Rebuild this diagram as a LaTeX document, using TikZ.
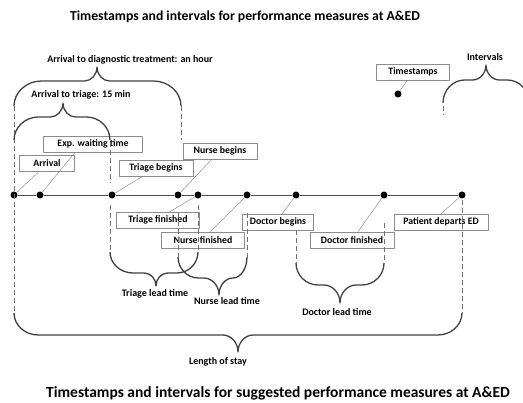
\documentclass[tikz,border=0pt]{standalone}
\usepackage{fontspec}
\setmainfont{Carlito}
\usetikzlibrary{calc}
\tikzset{
  stamp/.style={draw=black!45,line width=0.6pt,inner sep=1pt,minimum height=16pt,font=\bfseries\fontsize{9.8}{11}\selectfont},
  dot/.style={circle,fill=black,inner sep=0pt,minimum size=7pt},
  lead/.style={draw=black!50,line width=0.4pt},
  tick/.style={draw=black!55,line width=0.8pt,dash pattern=on 5pt off 3pt},
  curly/.style={draw=black!75,line width=1.3pt},
  caption/.style={font=\bfseries\fontsize{10}{12}\selectfont},
  heading/.style={font=\bfseries\fontsize{13.7}{16}\selectfont}
}
% #1 left x, #2 tip x, #3 right x, #4 end y, #5 bar y, #6 tip y
\newcommand\spanbrace[6]{%
  \pgfmathsetmacro\ra{min(1.1*abs(#4-#5),(#2-#1)/2)}%
  \pgfmathsetmacro\sa{min(0.9*abs(#6-#5),(#2-#1)/2)}%
  \pgfmathsetmacro\rb{min(1.1*abs(#4-#5),(#3-#2)/2)}%
  \pgfmathsetmacro\sb{min(0.9*abs(#6-#5),(#3-#2)/2)}%
  \draw[curly] (#1,#4) .. controls (#1,{#4+0.55*(#5-#4)}) and ({#1+0.45*\ra},#5) .. ({#1+\ra},#5)
    -- ({#2-\sa},#5) .. controls ({#2-0.45*\sa},#5) and (#2,{#5+0.45*(#6-#5)}) .. (#2,#6)
    .. controls (#2,{#5+0.45*(#6-#5)}) and ({#2+0.45*\sb},#5) .. ({#2+\sb},#5)
    -- ({#3-\rb},#5) .. controls ({#3-0.45*\rb},#5) and (#3,{#4+0.55*(#5-#4)}) .. (#3,#4);}
\begin{document}
\begin{tikzpicture}[x=1pt,y=-1pt,line join=round]
\useasboundingbox (0,0) rectangle (523,403);
%%
  \node (title_0) at (245,17) [heading] {Timestamps and intervals for performance measures at A\&ED};
  \node (title_1) at (278,393) [heading,font=\bfseries\fontsize{15.5}{18}\selectfont] {Timestamps and intervals for suggested performance measures at A\&ED};

  % time line
  \foreach \i/\x in {0/14,1/40,2/112,3/178,4/198,5/247,6/296,7/384,8/462}
    \node (dot_\i) at (\x,195) [dot] {};
  \foreach \i [evaluate=\i as \j using int(\i+1)] in {0,...,7}
    \draw [black!70,line width=0.7pt] (dot_\i) -- (dot_\j);

  % timestamps
  \node (lbl_arrival) at (47,163) [stamp,minimum width=55pt] {Arrival};
  \node (lbl_waiting) at (93,144) [stamp,minimum width=99pt] {Exp. waiting time};
  \node (lbl_triagein) at (156,168) [stamp,minimum width=74pt] {Triage begins};
  \node (lbl_nursein) at (220,151) [stamp,minimum width=74pt] {Nurse begins};
  \node (lbl_triageout) at (158,220) [stamp,minimum width=83pt] {Triage finished};
  \node (lbl_nurseout) at (203,240) [stamp,minimum width=83pt] {Nurse finished};
  \node (lbl_doctorin) at (278,222) [stamp,minimum width=71pt] {Doctor begins};
  \node (lbl_doctorout) at (352,240) [stamp,minimum width=84pt] {Doctor finished};
  \node (lbl_departs) at (441,222) [stamp,minimum width=94pt] {Patient departs ED};

  \foreach \d/\l/\f/\a in {0/arrival/0.36/south,1/waiting/0.32/south,2/triagein/0.32/south,
      3/nursein/0.39/south,4/triageout/0.64/north,5/nurseout/0.59/north,
      6/doctorin/0.56/north,7/doctorout/0.57/north,8/departs/0.5/north}
    \draw [lead] (dot_\d) -- ($(lbl_\l.\a\space west)!\f!(lbl_\l.\a\space east)$);

  % legend
  \node (lbl_key) at (413,72) [stamp,minimum width=73pt] {Timestamps};
  \node (dot_key) at (398,94) [dot] {};
  \draw [lead] (dot_key) -- ($(lbl_key.south west)!0.42!(lbl_key.south east)$);
  \node (cap_key) at (485,57) [caption] {Intervals};
  \spanbrace{443}{486}{529}{103}{80}{65}
  \draw [tick] (443,106) -- (443,115);

  % intervals
  \draw [tick] (14,106) -- (14,313);
  \draw [tick] (181,106) -- (181,140);
  \draw [tick] (110,142) -- (110,183);
  \draw [tick] (110,205) -- (110,252);
  \draw [tick] (198,205) -- (198,250);
  \draw [tick] (178,213) -- (178,257);
  \draw [tick] (247,213) -- (247,257);
  \draw [tick] (296,230) -- (296,263);
  \draw [tick] (384,223) -- (384,263);
  \draw [tick] (462,200) -- (462,313);

  \spanbrace{14}{97}{181}{106}{81}{67}
  \node (cap_hour) at (130,60) [caption] {Arrival to diagnostic treatment: an hour};
  \spanbrace{14}{63}{110}{140}{117}{103}
  \node (cap_triage15) at (81,95) [caption] {Arrival to triage: 15 min};

  \spanbrace{110}{156}{198}{252}{273}{286}
  \node (cap_triage) at (155,294) [caption] {Triage lead time};
  \spanbrace{178}{219}{247}{257}{278}{295}
  \node (cap_nurse) at (227,301) [caption] {Nurse lead time};
  \spanbrace{296}{340}{384}{263}{285}{303}
  \node (cap_doctor) at (337,312) [caption] {Doctor lead time};
  \spanbrace{14}{238}{462}{313}{335}{352}
  \node (cap_stay) at (218,362) [caption] {Length of stay};
%
\end{tikzpicture}
\end{document}
